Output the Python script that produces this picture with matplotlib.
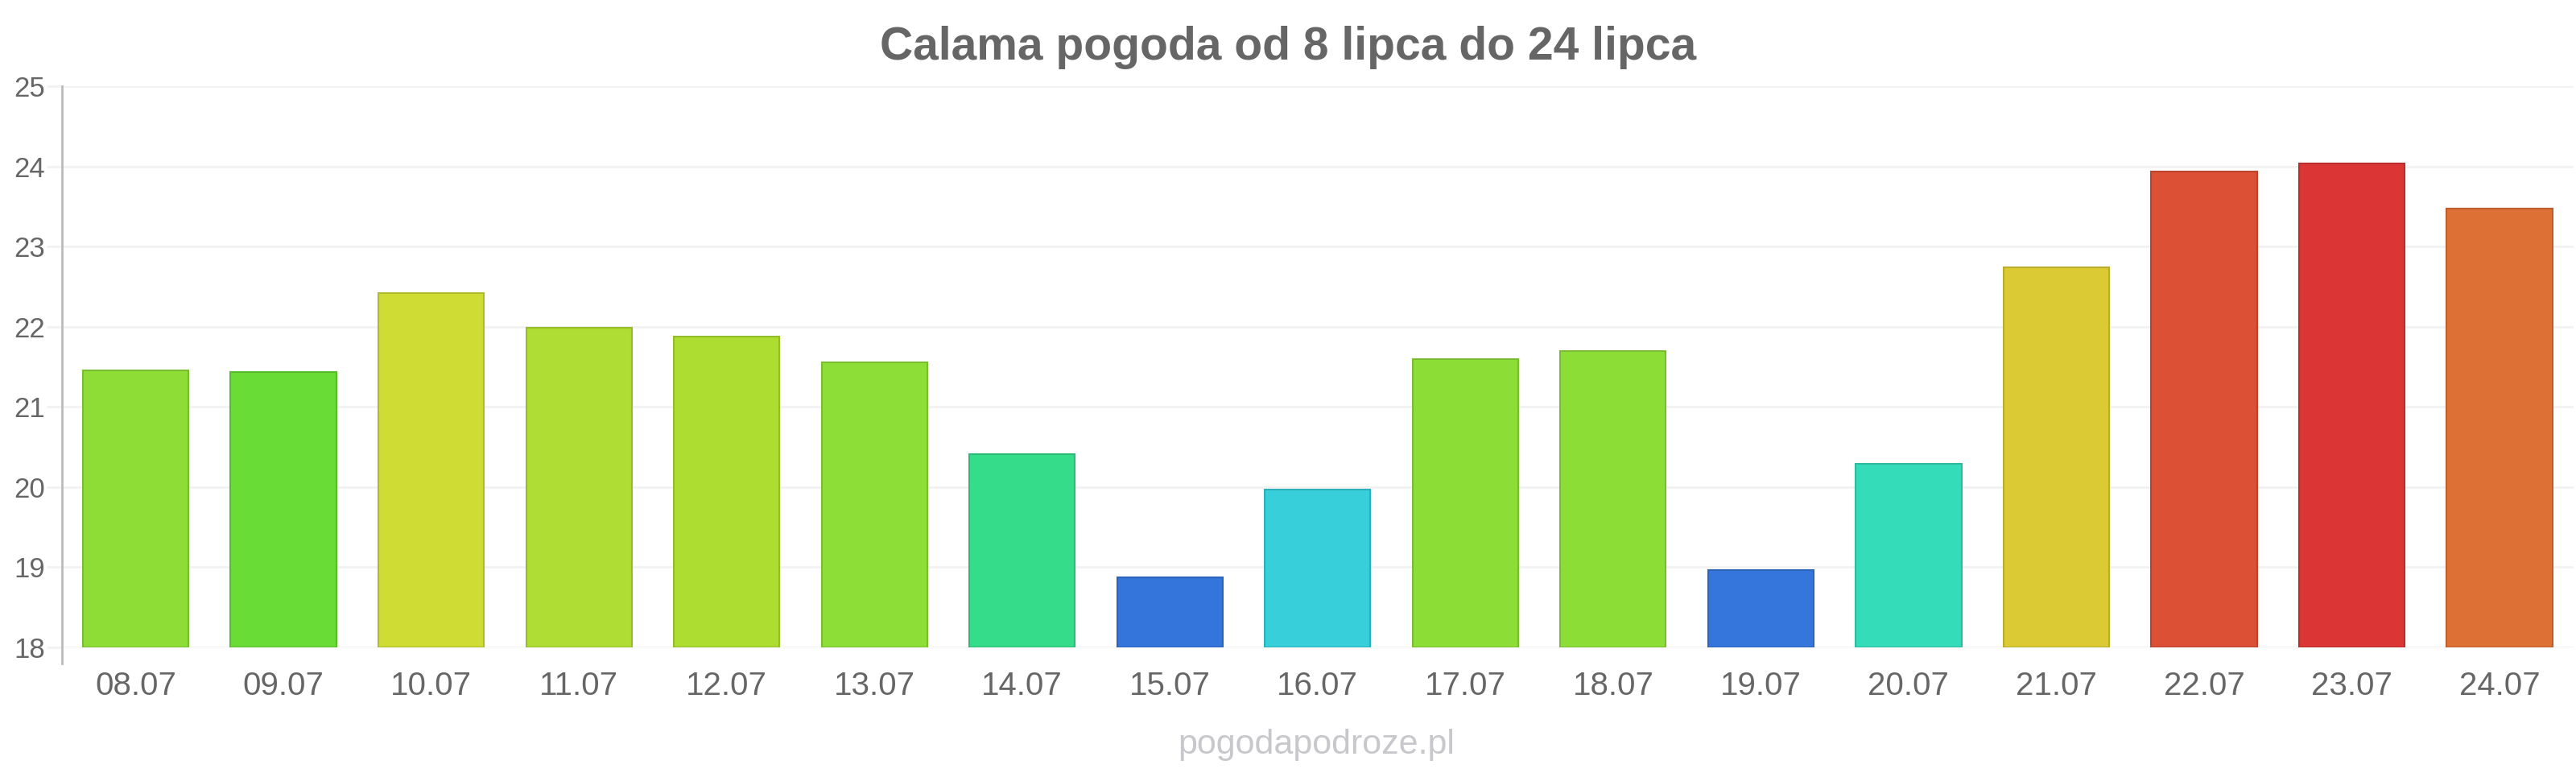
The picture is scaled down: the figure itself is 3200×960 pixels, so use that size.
import matplotlib.pyplot as plt

# data
days = ["08.07", "09.07", "10.07", "11.07", "12.07", "13.07", "14.07", "15.07", "16.07",
        "17.07", "18.07", "19.07", "20.07", "21.07", "22.07", "23.07", "24.07"]
temps = [21.46, 21.43, 22.42, 21.99, 21.88, 21.56, 20.41, 18.87, 19.97,
         21.60, 21.70, 18.96, 20.29, 22.74, 23.94, 24.04, 23.47]
colors = ["#8edd37", "#6adc36", "#cfdc34", "#b0dd33", "#addd31", "#8ddf37", "#35dc8a",
          "#3475db", "#36cfda", "#8ddd37", "#8ddd37", "#3476dc", "#35dcb9", "#dbca34",
          "#dc5035", "#db3535", "#dd7035"]
yticks = [18, 19, 20, 21, 22, 23, 24, 25]

plt.rcParams['font.family'] = ['Liberation Sans', 'DejaVu Sans']

fig = plt.figure(figsize=(32, 9.6), dpi=100)
ax = fig.add_axes([0.024, 0.1625, 0.975, 0.726])

bars = ax.bar(range(len(days)), [t - 18 for t in temps], bottom=18, width=0.715,
              color=colors, linewidth=1.5, zorder=3)
# slightly darker outline like the original
for b in bars:
    r, g, bl, a = b.get_facecolor()
    b.set_edgecolor((r * 0.85, g * 0.85, bl * 0.85, 1))

ax.set_xlim(-0.5, len(days) - 0.5)
ax.set_ylim(18, 25)
ax.set_yticks(yticks)
ax.set_xticks(range(len(days)))
ax.set_xticklabels(days)
ax.grid(axis='y', color='#f2f2f2', linewidth=2, zorder=0)

for s in ['top', 'right', 'bottom']:
    ax.spines[s].set_visible(False)
ax.spines['left'].set_color('#bbbbbb')
ax.spines['left'].set_linewidth(2)
ax.spines['left'].set_bounds(17.8, 25)

ax.tick_params(axis='y', length=14, width=2, color='#f2f2f2', pad=1,
               labelsize=25, labelcolor='#666666')
ax.tick_params(axis='x', length=0, pad=21, labelsize=29, labelcolor='#666666')

fig.text(0.5, 0.923, "Calama pogoda od 8 lipca do 24 lipca", ha='center', va='baseline',
         fontsize=41, fontweight='bold', color='#666666')
fig.text(0.511, 0.036, "pogodapodroze.pl", ha='center', va='center',
         fontsize=31, color='#c8c8cc')

fig.savefig("out.png", dpi=100)
